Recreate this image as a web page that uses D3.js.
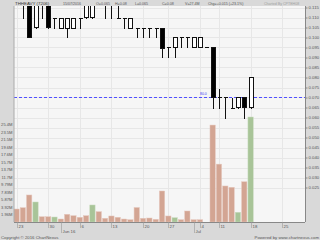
<!DOCTYPE html>
<html>
<head>
<meta charset="utf-8">
<script src="https://cdn.jsdelivr.net/npm/d3@7"></script>
<style>
  body { margin: 0; background: #d8d8d8; }
  svg { display: block; font-family: "Liberation Sans", Arial, sans-serif; }
</style>
</head>
<body>
<svg id="chart"></svg>
<script>
// trading days shown on the chart (one bar each)
var days = ["2016-05-23","2016-05-24","2016-05-25","2016-05-26","2016-05-27",
            "2016-05-30","2016-05-31","2016-06-01","2016-06-02","2016-06-03",
            "2016-06-06","2016-06-07","2016-06-08","2016-06-09","2016-06-10",
            "2016-06-13","2016-06-14","2016-06-15","2016-06-16","2016-06-17",
            "2016-06-20","2016-06-21","2016-06-23","2016-06-24",
            "2016-06-27","2016-06-28","2016-06-29","2016-06-30","2016-07-01",
            "2016-07-04","2016-07-05","2016-07-08",
            "2016-07-11","2016-07-12","2016-07-13","2016-07-14","2016-07-15",
            "2016-07-18"];
// empty slots on the right
var futureDays = ["2016-07-19","2016-07-20","2016-07-21","2016-07-22",
                  "2016-07-25","2016-07-26","2016-07-27","2016-07-28"];

var open  = [0.125,0.125,0.12,0.105,0.125,0.12,0.11,0.105,0.105,0.105,0.11,0.11,0.11,0.12,0.12,0.12,0.11,0.11,0.105,0.105,0.105,0.105,0.105,0.105,0.095,0.095,0.10,0.10,0.095,0.095,0.095,0.095,0.07,0.07,0.065,0.065,0.07,0.065];
var high  = [0.13,0.125,0.125,0.125,0.125,0.125,0.11,0.11,0.11,0.11,0.11,0.125,0.125,0.125,0.125,0.125,0.125,0.11,0.11,0.105,0.105,0.105,0.105,0.105,0.095,0.10,0.10,0.10,0.10,0.10,0.095,0.095,0.075,0.07,0.07,0.07,0.07,0.08];
var low   = [0.12,0.11,0.10,0.105,0.11,0.105,0.105,0.105,0.10,0.105,0.105,0.11,0.11,0.12,0.11,0.11,0.11,0.105,0.105,0.10,0.10,0.10,0.10,0.09,0.09,0.09,0.095,0.095,0.095,0.095,0.095,0.065,0.065,0.06,0.065,0.065,0.06,0.065];
var close = [0.12,0.12,0.10,0.12,0.12,0.105,0.11,0.11,0.11,0.11,0.11,0.12,0.12,0.12,0.12,0.12,0.11,0.11,0.11,0.105,0.105,0.105,0.105,0.095,0.095,0.10,0.10,0.10,0.10,0.10,0.095,0.07,0.07,0.07,0.065,0.07,0.065,0.08];
// volume in millions
var volume = [3.39,3.73,7.05,5.22,1.38,1.38,1.30,0.78,2.01,1.64,1.23,1.64,4.44,2.69,0.97,1.57,1.23,0.78,0.60,3.78,0.97,1.04,0.70,8.09,1.57,1.12,0.60,2.87,0.60,0.60,0,25.3,15.1,9.4,9.06,2.53,10.5,27.4];
var upDay  = [0,0,0,1,0,0,1,0,0,0,0,0,1,0,0,0,0,0,0,0,0,0,0,0,0,1,0,0,0,0,0,0,0,0,0,1,0,1];

var priceTicks = [0.025,0.030,0.035,0.040,0.045,0.050,0.055,0.060,0.065,0.070,0.075,0.080,0.085,0.090,0.095,0.100,0.105,0.110,0.115];
var volTicks = [1.96,3.92,5.87,7.83,9.79,11.7,13.7,15.7,17.6,19.6,21.5,23.5,25.4];
var volMax = 27.4;
var monthLabels = {"2016-06": "Jun 16", "2016-07": "Jul"};
var markLevel = 0.07, markLabel = "80.0";

var header = [["THHEAVY (7206)", 15], ["15/07/2016", 63], ["O=0.065", 96], ["H=0.08", 115],
              ["L=0.065", 135], ["C=0.08", 162], ["V=27.4M", 185], ["Chg=+0.015 (+23.1%)", 208]];

var width = 320, height = 240;
var plot = {left: 14, right: 305, top: 6, bottom: 222};

var svg = d3.select("#chart").attr("width", width).attr("height", height);

svg.append("rect").attr("width", width).attr("height", height).attr("fill", "#d9d9d9");
svg.append("rect")
  .attr("x", plot.left).attr("y", plot.top)
  .attr("width", plot.right - plot.left).attr("height", plot.bottom - plot.top)
  .attr("fill", "#f6f6f6");

var allDays = days.concat(futureDays);
var xScale = d3.scaleLinear()
  .domain([-0.4, 45.6])
  .range([plot.left, plot.right]);
var step = xScale(1) - xScale(0);

var yPrice = d3.scaleLinear().domain([0.025, 0.115]).range([187.5, 7.5]);
var yVol = d3.scaleLinear().domain([0, volMax]).range([plot.bottom, 117]);

var parse = d3.timeParse("%Y-%m-%d");
var dates = allDays.map(parse);
var ym = d3.timeFormat("%Y-%m");

// weekly ticks (Mondays) and month markers
var mondays = [], months = [];
dates.forEach(function(d, i){
  if (d.getDay() == 1) mondays.push(i);
  var key = ym(d);
  if (monthLabels[key] && (i == 0 || ym(dates[i-1]) != key)) months.push([i, monthLabels[key]]);
});

function px(v){ return Math.round(v) + 0.5; }

// grid
svg.append("g").attr("shape-rendering", "crispEdges")
  .selectAll("line").data(priceTicks).join("line")
  .attr("x1", plot.left).attr("x2", plot.right)
  .attr("y1", function(d){ return px(yPrice(d)); })
  .attr("y2", function(d){ return px(yPrice(d)); })
  .attr("stroke", "#e7e7e7");
svg.append("g").attr("shape-rendering", "crispEdges")
  .selectAll("line").data(mondays).join("line")
  .attr("x1", function(i){ return px(xScale(i)); })
  .attr("x2", function(i){ return px(xScale(i)); })
  .attr("y1", plot.top).attr("y2", plot.bottom)
  .attr("stroke", "#e7e7e7");

svg.append("clipPath").attr("id", "plot-clip").append("rect")
  .attr("x", plot.left).attr("y", plot.top)
  .attr("width", plot.right - plot.left).attr("height", plot.bottom - plot.top);

// volume bars
svg.append("g").attr("clip-path", "url(#plot-clip)")
  .selectAll("rect").data(volume).join("rect")
  .attr("x", function(d, i){ return xScale(i) - step * 0.42; })
  .attr("y", function(d){ return yVol(d); })
  .attr("width", step * 0.84)
  .attr("height", function(d){ return plot.bottom - yVol(d); })
  .attr("fill", function(d, i){ return upDay[i] ? "#a8c498" : "#d3a593"; })
  .attr("stroke", function(d, i){ return upDay[i] ? "#c9dcbf" : "#e6c8bd"; })
  .attr("stroke-width", 0.5);

// dashed level line
svg.append("line")
  .attr("x1", plot.left).attr("x2", plot.right)
  .attr("y1", px(yPrice(markLevel))).attr("y2", px(yPrice(markLevel)))
  .attr("stroke", "#5050ff").attr("stroke-width", 1).attr("stroke-dasharray", "3,2")
  .attr("shape-rendering", "crispEdges");
svg.append("text")
  .attr("x", 200).attr("y", yPrice(markLevel) - 3)
  .style("font-size", "3.5px").style("fill", "#4040f0")
  .text(markLabel);

// candles
var candles = svg.append("g").attr("clip-path", "url(#plot-clip)").attr("shape-rendering", "crispEdges");
var bw = Math.round(step * 0.66);
days.forEach(function(d, i){
  var cx = px(xScale(i));
  var o = open[i], c = close[i];
  if (volume[i] == 0) {
    candles.append("line")
      .attr("x1", cx - bw / 2).attr("x2", cx + bw / 2)
      .attr("y1", px(yPrice(c))).attr("y2", px(yPrice(c)))
      .attr("stroke", "#111");
    return;
  }
  candles.append("line")
    .attr("x1", cx).attr("x2", cx)
    .attr("y1", px(yPrice(high[i]))).attr("y2", px(yPrice(low[i])))
    .attr("stroke", "#111");
  if (o == c) {
    candles.append("line")
      .attr("x1", cx - bw / 2).attr("x2", cx + bw / 2)
      .attr("y1", px(yPrice(c))).attr("y2", px(yPrice(c)))
      .attr("stroke", "#111");
  } else {
    candles.append("rect")
      .attr("x", cx - bw / 2)
      .attr("y", px(yPrice(Math.max(o, c))))
      .attr("width", bw)
      .attr("height", Math.round(Math.abs(yPrice(o) - yPrice(c))))
      .attr("fill", c > o ? "#ffffff" : "#000000")
      .attr("stroke", "#111");
  }
});

// right price axis
var priceAxis = d3.axisRight(yPrice)
  .tickValues(priceTicks)
  .tickFormat(d3.format(".3f"))
  .tickSize(2).tickPadding(1);
var gp = svg.append("g").attr("transform", "translate(" + (plot.right + 0.5) + ",0)").call(priceAxis);
gp.select(".domain").attr("stroke", "#888").attr("d", "M0," + plot.top + "V" + plot.bottom);
gp.selectAll(".tick line").attr("stroke", "#888");
gp.selectAll("text").style("font-size", "4.3px").style("fill", "#555").style("font-family", "Liberation Sans, Arial, sans-serif");

// left volume axis
var volAxis = d3.axisLeft(yVol)
  .tickValues(volTicks)
  .tickFormat(function(d){ return d + "M"; })
  .tickSize(0).tickPadding(1.5);
var gv = svg.append("g").attr("transform", "translate(" + plot.left + ",0)").call(volAxis);
gv.select(".domain").attr("stroke", "#aaa").attr("d", "M0," + plot.top + "V" + plot.bottom);
gv.selectAll("text").style("font-size", "4.1px").style("fill", "#555").style("font-family", "Liberation Sans, Arial, sans-serif");

// bottom date axis
svg.append("line")
  .attr("x1", plot.left).attr("x2", plot.right)
  .attr("y1", plot.bottom + 0.5).attr("y2", plot.bottom + 0.5)
  .attr("stroke", "#888");
var gx = svg.append("g");
mondays.forEach(function(i){
  var x = px(xScale(i));
  gx.append("line").attr("x1", x).attr("x2", x).attr("y1", plot.bottom).attr("y2", plot.bottom + 6)
    .attr("stroke", "#999").attr("stroke-width", 0.6);
  gx.append("text").attr("x", x + 1).attr("y", plot.bottom + 5.5)
    .style("font-size", "4.3px").style("fill", "#555")
    .text(dates[i].getDate());
});
months.forEach(function(m){
  var x = px(xScale(m[0]));
  gx.append("line").attr("x1", x).attr("x2", x).attr("y1", plot.bottom).attr("y2", plot.bottom + 11)
    .attr("stroke", "#999").attr("stroke-width", 0.6);
  gx.append("text").attr("x", x + 1).attr("y", plot.bottom + 10.5)
    .style("font-size", "4.3px").style("fill", "#555")
    .text(m[1]);
});

// header band
svg.append("rect").attr("x", 0).attr("y", 0).attr("width", width).attr("height", plot.top)
  .attr("fill", "#d9d9d9");
svg.selectAll(".hdr").data(header).join("text")
  .attr("class", "hdr")
  .attr("x", function(d){ return d[1]; })
  .attr("y", 4.6)
  .style("font-size", function(d, i){ return i == 0 ? "4.4px" : "3.6px"; })
  .style("fill", function(d, i){ return i == 0 ? "#333" : "#555"; })
  .text(function(d){ return d[0]; });
svg.append("text").attr("x", 264).attr("y", 4.6)
  .style("font-size", "3.6px").style("fill", "#a0a0a0")
  .text("Charted By CPTEH08");

// footer
svg.append("text").attr("x", 1).attr("y", 238.5)
  .style("font-size", "4.3px").style("fill", "#555")
  .text("Copyright \u00a9 2016 ChartNexus");
svg.append("text").attr("x", 319).attr("y", 238.5).attr("text-anchor", "end")
  .style("font-size", "4.3px").style("fill", "#555")
  .text("Powered by www.chartnexus.com");
</script>
</body>
</html>
